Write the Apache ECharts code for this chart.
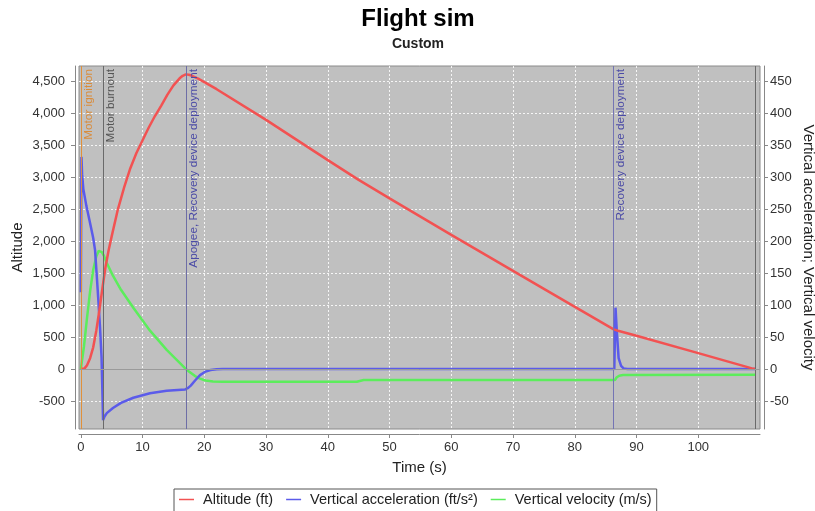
<!DOCTYPE html>
<html><head><meta charset="utf-8">
<script src="https://cdn.jsdelivr.net/npm/echarts@6/dist/echarts.min.js"></script>
<style>html,body{margin:0;padding:0;background:#fff}#c{width:815px;height:511px}</style>
</head><body><div id="c"></div>
<script>
// ---- data ----
const altTime  = [0, 0.3, 0.6, 1.0, 1.5, 2.0, 2.5, 3.0, 3.5, 4.0, 4.5, 5.0, 6.0, 7.0, 8.0, 9.0, 10.0, 11.0, 12.0, 13.0, 14.0, 15.0, 16.0, 16.5, 17.0, 17.5, 18.0, 19.0, 20.0, 21.0, 22.0, 30.0, 40.0, 45.0, 50.0, 60.0, 75.0, 86.3, 87.0, 90.0, 100.0, 108.7, 109.3];
const altValue = [0, -5, 10, 60, 170, 340, 600, 920, 1270, 1600, 1860, 2080, 2500, 2840, 3140, 3380, 3580, 3780, 3960, 4120, 4290, 4440, 4550, 4590, 4612, 4605, 4590, 4545, 4490, 4435, 4380, 3900, 3270, 2960, 2670, 2100, 1255, 620, 600, 520, 248, 10, 0];

const accTime  = [0, 0.1, 0.2, 0.4, 0.9, 1.5, 2.0, 2.3, 2.55, 2.8, 3.1, 3.35, 3.5, 3.6, 3.8, 4.2, 5.2, 6.5, 8.5, 11.2, 13.9, 16.9, 17.3, 17.8, 18.5, 19.3, 20.2, 21.0, 22.0, 23.0, 86.4, 86.6, 86.8, 87.1, 87.5, 87.9, 88.5, 109.3];
const accValue = [120, 332, 305, 282, 255, 228, 205, 186, 150, 113, 66, 19, -40, -80, -75, -69, -61, -53, -45, -38, -34, -32, -30, -26, -18, -9.5, -4, -1.5, -0.4, 0, 0, 96, 60, 17, 5, 1, 0, 0];

const velTime  = [0, 0.1, 0.5, 1.0, 1.5, 2.0, 2.5, 2.9, 3.1, 3.4, 3.7, 4.2, 5.2, 6.5, 8.5, 11.2, 13.9, 16.9, 17.5, 18.5, 19.3, 20.2, 21.4, 23.0, 44.7, 45.8, 86.5, 86.8, 87.2, 87.8, 109.3];
const velValue = [0, 3, 35, 80, 122, 155, 176, 185, 186, 183, 178, 166, 146, 124, 96, 60, 30, 1, -4, -11, -15, -18, -19.6, -20, -20, -17.3, -17.2, -13, -10.5, -9.5, -9];

const eventNames = ['Motor ignition', 'Motor burnout', 'Apogee, Recovery device deployment', 'Recovery device deployment', 'Ground hit'];
const eventTimes = [0, 3.6, 17.0, 86.2, 109.3];

const xTicks = [0, 10, 20, 30, 40, 50, 60, 70, 80, 90, 100];
const leftTicks = [-500, 0, 500, 1000, 1500, 2000, 2500, 3000, 3500, 4000, 4500];
const rightTicks = [-50, 0, 50, 100, 150, 200, 250, 300, 350, 400, 450];

const seriesNames = ['Altitude (ft)', 'Vertical acceleration (ft/s\u00B2)', 'Vertical velocity (m/s)'];

// ---- styles ----
const FF = '"Liberation Sans", Arial, sans-serif';
const eventLineColors = ['#e0903a', '#6a6a6a', '#6e6ea6', '#7474b4', '#6a6a6a'];
const eventLabelColors = ['#d98c3c', '#555555', '#4b4ba6', '#4b4ba6', '#555555'];

const pairs = (t, v) => t.map((x, i) => [x, v[i]]);
const commas = v => String(v).replace(/\B(?=(\d{3})+(?!\d))/g, ',');

const chart = echarts.init(document.getElementById('c'), null, {renderer: 'canvas'});
chart.setOption({
  animation: false,
  backgroundColor: '#ffffff',
  title: {
    text: 'Flight sim', subtext: 'Custom', left: 413, textAlign: 'center', top: 2, itemGap: 6,
    textStyle: {fontSize: 24, fontWeight: 'bold', color: '#000', fontFamily: FF},
    subtextStyle: {fontSize: 14, fontWeight: 'bold', color: '#222', fontFamily: FF}
  },
  legend: {
    left: 174, top: 489, orient: 'horizontal',
    data: seriesNames,
    icon: 'rect', itemWidth: 15, itemHeight: 1.5, itemGap: 13,
    borderColor: '#555', borderWidth: 1, padding: [3, 5, 8, 5], backgroundColor: '#fff',
    textStyle: {fontSize: 14.5, color: '#222', fontFamily: FF, padding: [0, 0, 0, 4]}
  },
  grid: {left: 79, right: 55, top: 66, bottom: 82, show: true, backgroundColor: '#c0c0c0',
         borderColor: '#8a8a8a', borderWidth: 1, containLabel: false, outerBoundsMode: 'none'},
  xAxis: {
    type: 'value', min: -0.3, max: 110, offset: 5,
    name: 'Time (s)', nameLocation: 'middle', nameGap: 26, nameMoveOverlap: false,
    nameTextStyle: {fontSize: 15, color: '#222', fontFamily: FF},
    axisLine: {show: true, onZero: false, lineStyle: {color: '#888'}},
    axisTick: {show: true, length: 4, customValues: xTicks, lineStyle: {color: '#888'}},
    axisLabel: {customValues: xTicks, fontSize: 13, margin: 7, color: '#333', fontFamily: FF},
    splitLine: {show: true, lineStyle: {color: '#ffffff', type: [2, 2], width: 1, opacity: 0.85}}
  },
  yAxis: [{
    type: 'value', position: 'left', min: -939, max: 4743, offset: 4,
    name: 'Altitude', nameLocation: 'middle', nameGap: 50, nameMoveOverlap: false,
    nameTextStyle: {fontSize: 15, color: '#222', fontFamily: FF},
    axisLine: {show: true, onZero: false, lineStyle: {color: '#888'}},
    axisTick: {show: true, length: 4, customValues: leftTicks, lineStyle: {color: '#888'}},
    axisLabel: {customValues: leftTicks, formatter: commas, fontSize: 13, margin: 10, color: '#333', fontFamily: FF},
    splitLine: {show: true, lineStyle: {color: '#ffffff', type: [2, 2], width: 1, opacity: 0.85}}
  }, {
    type: 'value', position: 'right', min: -93.9, max: 474.3, offset: 4,
    name: 'Vertical acceleration; Vertical velocity', nameLocation: 'middle', nameRotate: -90, nameGap: 37, nameMoveOverlap: false,
    nameTextStyle: {fontSize: 15, color: '#222', fontFamily: FF},
    axisLine: {show: true, onZero: false, lineStyle: {color: '#888'}},
    axisTick: {show: true, length: 4, customValues: rightTicks, lineStyle: {color: '#888'}},
    axisLabel: {customValues: rightTicks, fontSize: 13, margin: 6, color: '#333', fontFamily: FF},
    splitLine: {show: false}
  }],
  series: [{
    name: seriesNames[2], type: 'line', yAxisIndex: 1, showSymbol: false, symbol: 'none',
    data: pairs(velTime, velValue),
    lineStyle: {color: '#5ced5c', width: 2.5}, itemStyle: {color: '#5ced5c'},
    markLine: {
      silent: true, symbol: ['none', 'none'], animation: false,
      data: eventTimes.map((t, i) => ({
        xAxis: t, name: eventNames[i],
        lineStyle: {color: eventLineColors[i], width: 1, type: 'solid'},
        label: {show: i < 4, formatter: '{b}', position: 'insideEndBottom', color: eventLabelColors[i],
                fontSize: 11.8, fontFamily: FF, distance: [3, 2]}
      })).concat([{yAxis: 0, lineStyle: {color: '#9a9a9a', width: 1, type: 'solid'}, label: {show: false}}])
    }
  }, {
    name: seriesNames[1], type: 'line', yAxisIndex: 1, showSymbol: false, symbol: 'none',
    data: pairs(accTime, accValue),
    lineStyle: {color: '#5b5bea', width: 2.5}, itemStyle: {color: '#5b5bea'}
  }, {
    name: seriesNames[0], type: 'line', yAxisIndex: 0, showSymbol: false, symbol: 'none',
    data: pairs(altTime, altValue),
    lineStyle: {color: '#f25252', width: 2.5}, itemStyle: {color: '#f25252'}
  }]
});
</script>
</body></html>
